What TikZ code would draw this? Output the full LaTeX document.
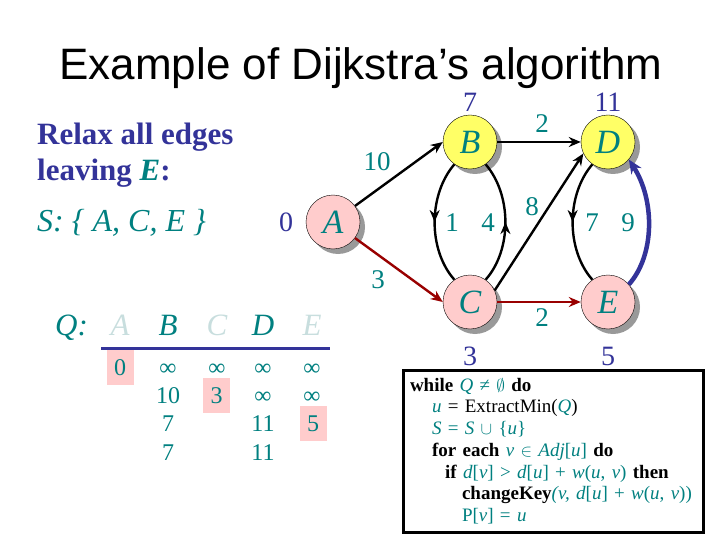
\documentclass[tikz,border=0pt]{standalone}
\usepackage{fontspec}
\setmainfont{Liberation Serif}
\newfontfamily\titlefont{Liberation Sans}
\usepackage{xcolor}
\definecolor{dnavy}{RGB}{51,51,153}
\definecolor{dteal}{RGB}{0,128,128}
\definecolor{dpink}{RGB}{255,204,204}
\definecolor{dyellow}{RGB}{255,255,102}
\definecolor{dred}{RGB}{153,0,0}
\definecolor{dfade}{RGB}{200,222,222}
\usetikzlibrary{arrows.meta,shadows,decorations.markings}
\newcommand{\fsz}[1]{\fontsize{#1}{#1}\selectfont}
\newcommand{\tvar}[1]{{\color{dteal}\textit{#1}}}

\begin{document}
\begin{tikzpicture}[x=1pt, y=-1pt,
  vertex/.style={circle, draw=black, minimum size=54pt, inner sep=0pt, font=\fsz{34}\itshape, text=dteal,
    drop shadow={shadow xshift=5pt, shadow yshift=-5pt, fill=black!40, opacity=1}},
  pinkv/.style={vertex, fill=dpink},
  yellowv/.style={vertex, fill=dyellow},
  dist/.style={font=\fsz{28}, text=dnavy, inner sep=0pt},
  wt/.style={font=\fsz{27}, text=dteal, inner sep=0pt},
  edge/.style={-{Stealth[length=12pt,width=10pt]}, line width=2.4pt},
  midarrow/.style={line width=2.4pt, postaction={decorate, decoration={markings,
    mark=at position 0.5 with {\arrow{Stealth[length=12pt,width=10pt]}}}}},
  cell/.style={font=\fsz{24}, text=dteal, anchor=base, inner sep=0pt},
  cellhi/.style={cell, fill=dpink, minimum width=27pt, minimum height=35pt},
  head/.style={font=\fsz{31}\itshape, anchor=base, inner sep=0pt}]
  \fill[white] (0,0) rectangle (720,540);
  \useasboundingbox (0,0) rectangle (720,540);

  %% Title and left text
  \node[font=\titlefont\fsz{44}, anchor=base, inner sep=0pt] (title) at (361,80) {Example of Dijkstra’s algorithm};
  \node[anchor=base west, inner sep=0pt, font=\fsz{31}\bfseries, text=dnavy] (relax)   at (37,145) {Relax all edges};
  \node[anchor=base west, inner sep=0pt, font=\fsz{31}\bfseries, text=dnavy] (leaving) at (37,181) {leaving \tvar{E}:};
  \node[anchor=base west, inner sep=0pt, font=\fsz{32}\itshape, text=dteal]  (sset)    at (37,232) {S: \{ A, C, E \}};

  %% Graph
  \node[pinkv]   (A) at (333,222) {A};
  \node[yellowv] (B) at (470,142) {B};
  \node[pinkv]   (C) at (470,302) {C};
  \node[yellowv] (D) at (608,142) {D};
  \node[pinkv]   (E) at (608,302) {E};

  \node[dist] (dA) at (286,222) {0};
  \node[dist] (dB) at (470,102) {7};
  \node[dist] (dD) at (608,102) {11};
  \node[dist] (dC) at (470,356) {3};
  \node[dist] (dE) at (608,356) {5};

  \draw[edge]       (A) -- (B.west);
  \draw[edge, dred] (A) -- (C.west);
  \draw[edge]       (B) -- (D);
  \draw[edge]       (C.25) -- (D.205);
  \draw[edge, dred] (C) -- (E);
  \draw[midarrow] (B.235) .. controls (428,195) and (428,250) .. (C.125);
  \draw[midarrow] (C.55)  .. controls (512,250) and (512,195) .. (B.305);
  \draw[midarrow] (D.235) .. controls (566,195) and (566,250) .. (E.125);
  \draw[-{Stealth[length=14pt,width=12pt]}, dnavy, line width=4.5pt] (E.40) .. controls (655,255) and (655,200) .. (D.320);

  \node[wt] (wAB) at (377,162) {10};
  \node[wt] (wAC) at (378,280) {3};
  \node[wt] (wBD) at (542,124) {2};
  \node[wt] (wBC) at (452,223) {1};
  \node[wt] (wCB) at (488,223) {4};
  \node[wt] (wCD) at (532,207) {8};
  \node[wt] (wDE) at (592,223) {7};
  \node[wt] (wED) at (628,223) {9};
  \node[wt] (wCE) at (542,318) {2};

  %% Queue table
  \node[head, anchor=base west, text=dteal] (qlab) at (55,335) {Q:};
  \node[head, text=dfade] (qA) at (120,335) {A};
  \node[head, text=dteal] (qB) at (168,335) {B};
  \node[head, text=dfade] (qC) at (217,335) {C};
  \node[head, text=dteal] (qD) at (263,335) {D};
  \node[head, text=dfade] (qE) at (312,335) {E};
  \coordinate (ql) at (101,348);
  \coordinate (qr) at (330,348);
  \draw[dnavy, line width=3pt] (ql) -- (qr);

  \node[cellhi] (cA1) at (120,375) {0};
  \node[cell]   (cB1) at (168,375) {∞};
  \node[cell]   (cC1) at (217,375) {∞};
  \node[cell]   (cD1) at (263,375) {∞};
  \node[cell]   (cE1) at (312,375) {∞};
  \node[cell]   (cB2) at (168,403) {10};
  \node[cellhi] (cC2) at (216.5,403) {3};
  \node[cell]   (cD2) at (263,403) {∞};
  \node[cell]   (cE2) at (312,403) {∞};
  \node[cell]   (cB3) at (168,431) {7};
  \node[cell]   (cD3) at (263,431) {11};
  \node[cellhi] (cE3) at (313,431) {5};
  \node[cell]   (cB4) at (168,460) {7};
  \node[cell]   (cD4) at (263,460) {11};

  %% Pseudocode
  \node[draw=black, line width=3pt, minimum width=300pt, minimum height=162pt, text width=286pt, align=left,
        inner sep=0pt, font=\fontsize{19}{21.7}\selectfont] (algo) at (553,451)
    {\textbf{while} \tvar{Q} {\color{dteal}≠ $\emptyset$} \textbf{do}\\
     \hspace*{22pt}\tvar{u} = ExtractMin(\tvar{Q})\\
     \hspace*{22pt}{\color{dteal}\textit{S} = \textit{S} $\cup$ \{\textit{u}\}}\\
     \hspace*{22pt}\textbf{for each} {\color{dteal}\textit{v} $\in$ \textit{Adj}[\textit{u}]} \textbf{do}\\
     \hspace*{35pt}\textbf{if} {\color{dteal}\textit{d}[\textit{v}] > \textit{d}[\textit{u}] + \textit{w}(\textit{u}, \textit{v})} \textbf{then}\\
     \hspace*{52pt}\textbf{changeKey}{\color{dteal}\textit{(v, d}[\textit{u}] + \textit{w}(\textit{u}, \textit{v}))}\\
     \hspace*{52pt}{\color{dteal}P[\textit{v}] = \textit{u}}};
\end{tikzpicture}
\end{document}
